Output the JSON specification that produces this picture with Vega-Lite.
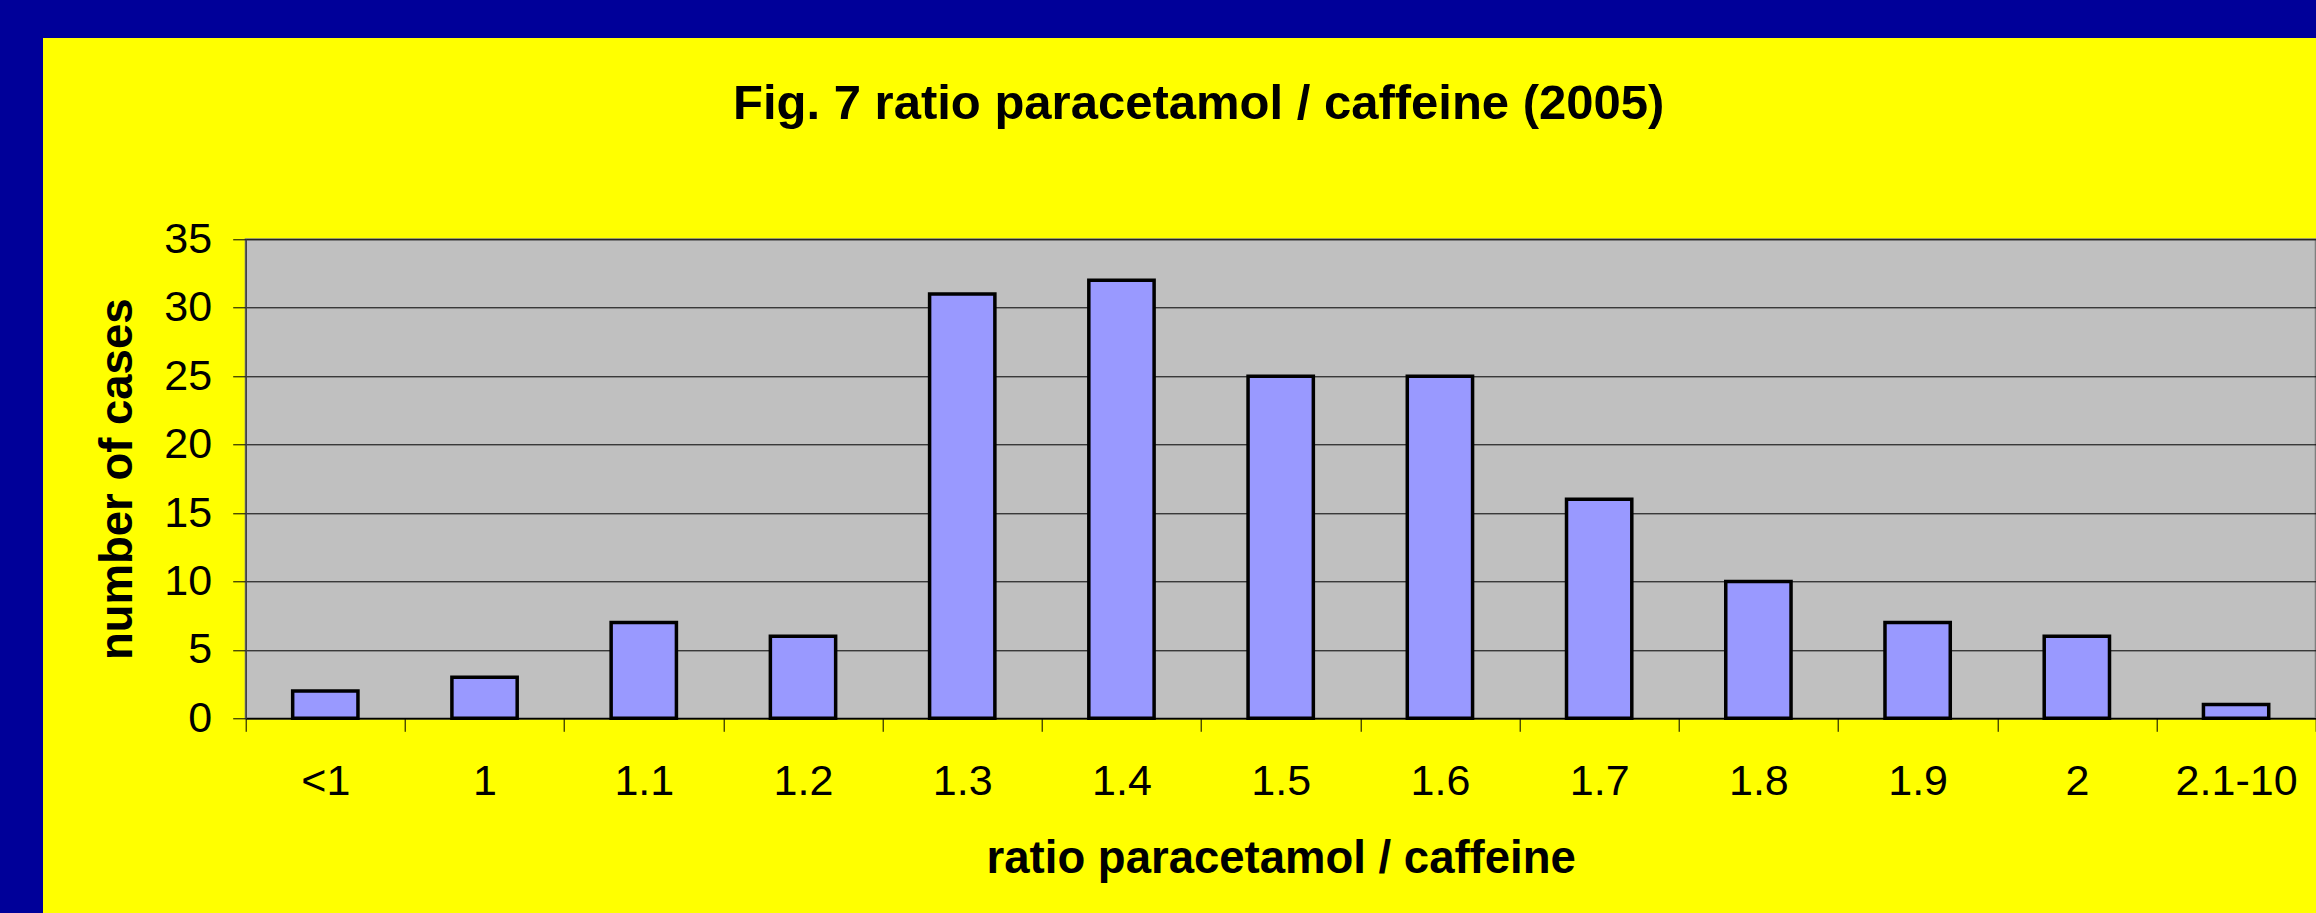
{
  "$schema": "https://vega.github.io/schema/vega-lite/v6.json",
  "background": "#FFFF00",
  "padding": 0,
  "config": {
    "view": {"stroke": null},
    "font": "Liberation Sans"
  },
  "bounds": "flush",
  "spacing": 0,
  "vconcat": [
    {
      "width": 2316,
      "height": 38,
      "view": {"fill": "#000099", "stroke": null},
      "data": {"values": []},
      "mark": "rect",
      "encoding": {}
    },
    {
      "bounds": "flush",
      "spacing": 202.7,
      "hconcat": [
        {
          "width": 43,
          "height": 875,
          "view": {"fill": "#000099", "stroke": null},
          "data": {"values": []},
          "mark": "rect",
          "encoding": {}
        },
        {
          "bounds": "flush",
          "spacing": 200.3,
          "vconcat": [
            {
              "width": 1,
              "height": 1,
              "view": {"stroke": null},
              "data": {"values": []},
              "mark": "rect",
              "encoding": {}
            },
            {
              "width": 2070,
              "height": 479,
              "view": {"fill": "#C0C0C0", "stroke": "#808080", "strokeWidth": 2},
              "title": {
                "text": "Fig. 7 ratio paracetamol / caffeine (2005)",
                "font": "Liberation Sans",
                "fontSize": 49,
                "fontWeight": "bold",
                "color": "#000000",
                "anchor": "middle",
                "frame": "group",
                "dx": -82,
                "baseline": "alphabetic",
                "offset": 50
              },
              "data": {
                "values": [
                  {"ratio": "<1", "cases": 2},
                  {"ratio": "1", "cases": 3},
                  {"ratio": "1.1", "cases": 7},
                  {"ratio": "1.2", "cases": 6},
                  {"ratio": "1.3", "cases": 31},
                  {"ratio": "1.4", "cases": 32},
                  {"ratio": "1.5", "cases": 25},
                  {"ratio": "1.6", "cases": 25},
                  {"ratio": "1.7", "cases": 16},
                  {"ratio": "1.8", "cases": 10},
                  {"ratio": "1.9", "cases": 7},
                  {"ratio": "2", "cases": 6},
                  {"ratio": "2.1-10", "cases": 1}
                ]
              },
              "mark": {
                "type": "bar",
                "width": {"band": 0.41},
                "fill": "#9999FF",
                "stroke": "#000000",
                "strokeWidth": 3.5
              },
              "encoding": {
                "x": {
                  "field": "ratio",
                  "type": "nominal",
                  "sort": null,
                  "scale": {"paddingInner": 0, "paddingOuter": 0},
                  "axis": {
                    "title": "ratio paracetamol / caffeine",
                    "titleFont": "Liberation Sans",
                    "titleFontSize": 45.5,
                    "titleFontWeight": "bold",
                    "titleColor": "#000000",
                    "titlePadding": 33,
                    "labelAngle": 0,
                    "labelFont": "Liberation Sans",
                    "labelFontSize": 43,
                    "labelColor": "#000000",
                    "labelPadding": 29,
                    "tickBand": "extent",
                    "tickSize": 13,
                    "tickColor": "#000000",
                    "tickWidth": 1,
                    "domainColor": "#000000",
                    "domainWidth": 1.5,
                    "grid": false
                  }
                },
                "y": {
                  "field": "cases",
                  "type": "quantitative",
                  "scale": {"domain": [0, 35], "nice": false},
                  "axis": {
                    "title": "number of cases",
                    "titleFont": "Liberation Sans",
                    "titleFontSize": 45.5,
                    "titleFontWeight": "bold",
                    "titleColor": "#000000",
                    "titlePadding": 22,
                    "values": [0, 5, 10, 15, 20, 25, 30, 35],
                    "labelFont": "Liberation Sans",
                    "labelFontSize": 43,
                    "labelColor": "#000000",
                    "labelPadding": 21,
                    "tickSize": 13,
                    "tickColor": "#000000",
                    "tickWidth": 1,
                    "domainColor": "#404040",
                    "domainWidth": 1.5,
                    "grid": true,
                    "gridColor": "#000000",
                    "gridWidth": 1,
                    "gridOpacity": 1
                  }
                }
              }
            }
          ]
        }
      ]
    }
  ]
}
